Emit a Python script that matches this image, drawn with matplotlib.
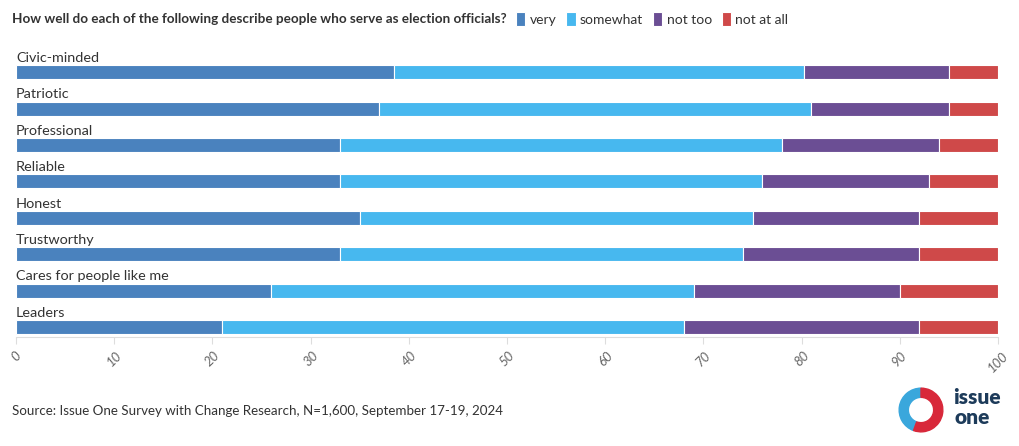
import numpy as np
import matplotlib.pyplot as plt
from matplotlib.patches import Wedge

# data
traits = ['Civic-minded', 'Patriotic', 'Professional', 'Reliable', 'Honest',
          'Trustworthy', 'Cares for people like me', 'Leaders']
very = [38.5, 37, 33, 33, 35, 33, 26, 21]
somewhat = [41.7, 44, 45, 43, 40, 41, 43, 47]
not_too = [14.8, 14, 16, 17, 17, 18, 21, 24]
not_at_all = [5, 5, 6, 7, 8, 8, 10, 8]
series_names = ['very', 'somewhat', 'not too', 'not at all']
colors = ['#4a82be', '#47b8ef', '#6b4e94', '#cf4949']
xticks = [0, 10, 20, 30, 40, 50, 60, 70, 80, 90, 100]

plt.rcParams['font.family'] = ['Lato', 'DejaVu Sans']

fig = plt.figure(figsize=(10.2, 4.46), dpi=100)
ax = fig.add_axes([16 / 1020, 1 - 337 / 446, 982 / 1020, 297.6 / 446])

y = np.arange(len(traits))
bar_h = 0.385
left = np.zeros(len(traits))
handles = []
for vals, name, c in zip([very, somewhat, not_too, not_at_all], series_names, colors):
    b = ax.barh(y, vals, left=left, height=bar_h, color=c, edgecolor='white',
                linewidth=0.8, label=name)
    handles.append(b)
    left += np.array(vals)

for i, t in enumerate(traits):
    ax.text(0, i - bar_h / 2 - 0.03, t, ha='left', va='bottom', fontsize=10.4,
            color='#333333')

ax.set_xlim(0, 100)
ax.set_ylim(7.275, -0.9)
ax.set_yticks([])
ax.set_xticks(xticks)
ax.set_xticklabels([str(v) for v in xticks], rotation=45, fontsize=9.5,
                   color='#666666', style='italic', ha='center', va='top')
ax.tick_params(axis='x', length=5, color='#dddddd', pad=4)
for s in ['top', 'right', 'left']:
    ax.spines[s].set_visible(False)
ax.spines['bottom'].set_color('#dddddd')

fig.text(12 / 1020, 1 - 19 / 446,
         'How well do each of the following describe people who serve as election officials?',
         fontsize=9.7, fontweight='bold', color='#333333', va='center', ha='left')
fig.legend(handles=handles, labels=series_names, loc='center left',
           bbox_to_anchor=(503 / 1020, 1 - 19 / 446), ncol=4, frameon=False,
           handlelength=0.7, handleheight=1.1, handletextpad=0.3,
           columnspacing=0.7, fontsize=10, labelcolor='#333333')

fig.text(12 / 1020, 1 - 411 / 446,
         'Source: Issue One Survey with Change Research, N=1,600, September 17-19, 2024',
         fontsize=9.6, color='#333333', va='center', ha='left')

# logo
lax = fig.add_axes([898 / 1020, 1 - 433 / 446, 46 / 1020, 46 / 446])
lax.set_xlim(-1, 1)
lax.set_ylim(-1, 1)
lax.set_aspect('equal')
lax.axis('off')
lax.add_patch(Wedge((0, 0), 0.95, 90, 250, width=0.4, color='#3aa7dc'))
lax.add_patch(Wedge((0, 0), 0.95, 250, 450, width=0.4, color='#d8283a'))
fig.text(977 / 1020, 1 - 397 / 446, 'issue', fontsize=15, fontweight='heavy',
         color='#1d3b5a', ha='center', va='center')
fig.text(972 / 1020, 1 - 417 / 446, 'one', fontsize=15, fontweight='heavy',
         color='#1d3b5a', ha='center', va='center')

fig.savefig('out.png', dpi=100)
